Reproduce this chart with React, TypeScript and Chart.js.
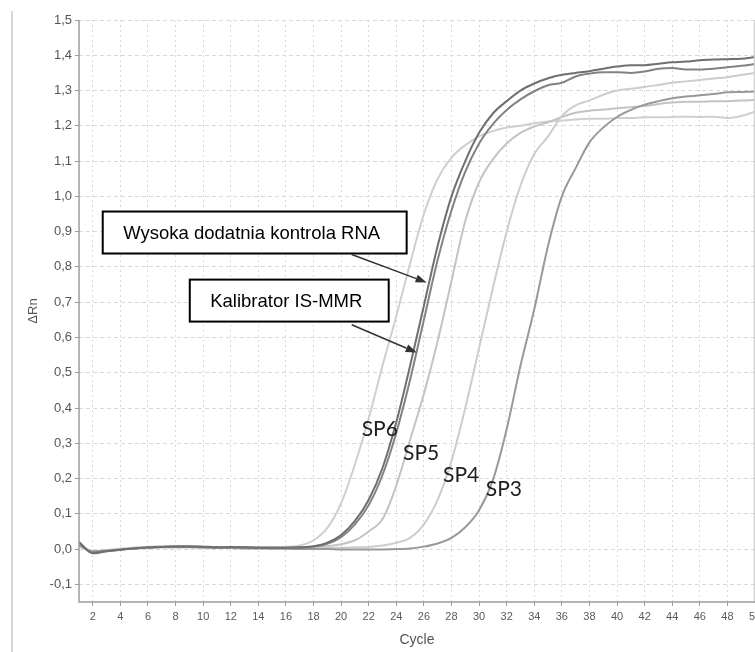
import React, { useEffect, useRef } from "react";
import { Chart, registerables } from "chart.js";

Chart.register(...registerables);

// ---------- DATA ----------
const cycles = [
  1, 2, 3, 4, 5, 6, 7, 8, 9, 10, 11, 12, 13, 14, 15, 16, 17, 18, 19, 20, 21, 22, 23, 24, 25,
  26, 27, 28, 29, 30, 31, 32, 33, 34, 35, 36, 37, 38, 39, 40, 41, 42, 43, 44, 45, 46, 47, 48, 49, 50,
];

const xTickValues = [2, 4, 6, 8, 10, 12, 14, 16, 18, 20, 22, 24, 26, 28, 30, 32, 34, 36, 38, 40, 42, 44, 46, 48, 50];
const yTickValues = [-0.1, 0, 0.1, 0.2, 0.3, 0.4, 0.5, 0.6, 0.7, 0.8, 0.9, 1.0, 1.1, 1.2, 1.3, 1.4, 1.5];

// Wysoka dodatnia kontrola RNA
const rnaControl = [
  0.02, -0.012, -0.006, -0.002, 0.002, 0.005, 0.006, 0.007, 0.007, 0.006,
  0.005, 0.006, 0.005, 0.004, 0.004, 0.004, 0.005, 0.008, 0.018, 0.04,
  0.08, 0.14, 0.23, 0.36, 0.52, 0.69, 0.86, 1.0, 1.1, 1.18,
  1.235, 1.27, 1.3, 1.32, 1.335, 1.345, 1.35, 1.355, 1.362, 1.368,
  1.372, 1.372, 1.376, 1.38, 1.382, 1.386, 1.388, 1.389, 1.39, 1.395,
];

// Kalibrator IS-MMR
const calibrator = [
  0.018, -0.01, -0.006, -0.002, 0.002, 0.004, 0.006, 0.007, 0.007, 0.006,
  0.005, 0.005, 0.005, 0.004, 0.004, 0.004, 0.004, 0.007, 0.015, 0.034,
  0.07, 0.125, 0.21, 0.33, 0.48, 0.65, 0.82, 0.96, 1.07, 1.15,
  1.205, 1.245, 1.275, 1.298, 1.315, 1.322, 1.34, 1.348, 1.352, 1.352,
  1.35, 1.354, 1.362, 1.364, 1.36, 1.36, 1.362, 1.366, 1.37, 1.375,
];

const sp6 = [
  0.015, -0.01, -0.005, 0.0, 0.004, 0.006, 0.007, 0.008, 0.008, 0.007,
  0.006, 0.006, 0.006, 0.005, 0.005, 0.006, 0.01, 0.025, 0.06, 0.13,
  0.24, 0.37, 0.52, 0.66, 0.81, 0.95, 1.05, 1.11, 1.145, 1.17,
  1.185, 1.195, 1.2, 1.207, 1.212, 1.215, 1.218, 1.22, 1.22, 1.222,
  1.222, 1.224, 1.224, 1.225, 1.226, 1.225, 1.226, 1.222, 1.228, 1.24,
];

const sp5 = [
  0.012, -0.006, -0.004, 0.0, 0.003, 0.006, 0.007, 0.008, 0.008, 0.007,
  0.006, 0.006, 0.005, 0.005, 0.004, 0.004, 0.004, 0.005, 0.008, 0.014,
  0.025, 0.05, 0.085, 0.18, 0.31, 0.44, 0.59, 0.76, 0.93, 1.04,
  1.105, 1.15, 1.18, 1.198, 1.21, 1.225, 1.237, 1.243, 1.246, 1.25,
  1.253, 1.256, 1.262, 1.266, 1.268, 1.268, 1.27, 1.27, 1.272, 1.273,
];

const sp4 = [
  0.01, -0.008, -0.003, 0.001, 0.004, 0.006, 0.007, 0.007, 0.008, 0.007,
  0.006, 0.006, 0.005, 0.005, 0.004, 0.004, 0.004, 0.004, 0.004, 0.004,
  0.005, 0.006, 0.01, 0.018, 0.032, 0.07, 0.14, 0.25, 0.4, 0.57,
  0.74, 0.9, 1.03, 1.12, 1.17, 1.228, 1.258, 1.272, 1.288, 1.3,
  1.305, 1.31, 1.316, 1.322, 1.326, 1.33, 1.334, 1.338, 1.344, 1.35,
];

const sp3 = [
  0.01, -0.006, -0.004, -0.001, 0.002, 0.004, 0.005, 0.005, 0.005, 0.004,
  0.003, 0.003, 0.002, 0.002, 0.001, 0.001, 0.0, 0.0, 0.0, -0.001,
  -0.001, -0.001, -0.001, 0.0, 0.002, 0.007, 0.016, 0.032, 0.062, 0.11,
  0.196, 0.34, 0.52, 0.68, 0.86, 1.0, 1.08, 1.153, 1.195, 1.225,
  1.245, 1.26, 1.27, 1.278, 1.283, 1.287, 1.29, 1.295, 1.296, 1.297,
];

// ---------- ANNOTATIONS (data coordinates) ----------
const calloutTexts = ["Wysoka dodatnia kontrola RNA", "Kalibrator IS-MMR"];
const calloutBoxes = [
  { x0: 2.72, x1: 24.75, y0: 0.957, y1: 0.838 },
  { x0: 9.03, x1: 23.45, y0: 0.764, y1: 0.645 },
];
const calloutArrows = [
  { fx: 20.77, fy: 0.835, tx: 26.2, ty: 0.756 },
  { fx: 20.77, fy: 0.636, tx: 25.48, ty: 0.557 },
];
const spLabels = ["SP6", "SP5", "SP4", "SP3"];
const spLabelPos = [
  { x: 22.8, y: 0.34 },
  { x: 25.8, y: 0.273 },
  { x: 28.7, y: 0.21 },
  { x: 31.8, y: 0.17 },
];

const FONT = "'Liberation Sans', Arial, sans-serif";

const toXY = (vals: number[]) => vals.map((v, i) => ({ x: cycles[i], y: v }));

const overlayPlugin = {
  id: "overlay",
  afterDraw(chart: any) {
    const { ctx, chartArea: a, scales } = chart;
    const xs = scales.x;
    const ys = scales.y;
    ctx.save();
    ctx.setLineDash([]);
    // outer frame line on the left
    ctx.strokeStyle = "#d6d6d6";
    ctx.lineWidth = 2;
    ctx.beginPath();
    ctx.moveTo(12, 11);
    ctx.lineTo(12, chart.height);
    ctx.stroke();

    // right border
    ctx.strokeStyle = "#d0d0d0";
    ctx.lineWidth = 1.5;
    ctx.beginPath();
    ctx.moveTo(a.right - 0.5, a.top);
    ctx.lineTo(a.right - 0.5, a.bottom);
    ctx.stroke();

    // axis lines
    ctx.strokeStyle = "#9c9c9c";
    ctx.lineWidth = 1.5;
    ctx.beginPath();
    ctx.moveTo(a.left, a.top);
    ctx.lineTo(a.left, a.bottom);
    ctx.lineTo(a.right, a.bottom);
    ctx.stroke();

    // callout boxes
    ctx.font = `18.5px ${FONT}`;
    ctx.textAlign = "center";
    ctx.textBaseline = "middle";
    calloutBoxes.forEach((b, i) => {
      const l = xs.getPixelForValue(b.x0);
      const r = xs.getPixelForValue(b.x1);
      const t = ys.getPixelForValue(b.y0);
      const bt = ys.getPixelForValue(b.y1);
      ctx.fillStyle = "#ffffff";
      ctx.fillRect(l, t, r - l, bt - t);
      ctx.strokeStyle = "#000000";
      ctx.lineWidth = 2;
      ctx.strokeRect(l, t, r - l, bt - t);
      ctx.fillStyle = "#000000";
      ctx.fillText(calloutTexts[i], (l + r) / 2 - 3, (t + bt) / 2 + 1);
    });

    // arrows
    calloutArrows.forEach((ar) => {
      const fx = xs.getPixelForValue(ar.fx);
      const fy = ys.getPixelForValue(ar.fy);
      const tx = xs.getPixelForValue(ar.tx);
      const ty = ys.getPixelForValue(ar.ty);
      const ang = Math.atan2(ty - fy, tx - fx);
      const len = 11;
      const hw = 4;
      ctx.strokeStyle = "#333333";
      ctx.fillStyle = "#333333";
      ctx.lineWidth = 1.5;
      ctx.beginPath();
      ctx.moveTo(fx, fy);
      ctx.lineTo(tx - Math.cos(ang) * len, ty - Math.sin(ang) * len);
      ctx.stroke();
      ctx.beginPath();
      ctx.moveTo(tx, ty);
      ctx.lineTo(
        tx - Math.cos(ang) * len + Math.sin(ang) * hw,
        ty - Math.sin(ang) * len - Math.cos(ang) * hw
      );
      ctx.lineTo(
        tx - Math.cos(ang) * len - Math.sin(ang) * hw,
        ty - Math.sin(ang) * len + Math.cos(ang) * hw
      );
      ctx.closePath();
      ctx.fill();
    });

    // SP labels
    ctx.font = `21px Lato, 'Noto Sans', sans-serif`;
    ctx.fillStyle = "#1e1e1e";
    spLabels.forEach((s, i) => {
      const p = spLabelPos[i];
      ctx.fillText(s, xs.getPixelForValue(p.x), ys.getPixelForValue(p.y));
    });
    ctx.restore();
  },
};

export default function App() {
  const ref = useRef<HTMLCanvasElement | null>(null);

  useEffect(() => {
    document.body.style.overflow = "hidden";
    document.documentElement.style.overflow = "hidden";
    const canvas = ref.current;
    if (!canvas) return;

    const line = (label: string, vals: number[], color: string, width: number) => ({
      label,
      data: toXY(vals),
      borderColor: color,
      backgroundColor: color,
      borderWidth: width,
      pointRadius: 0,
      fill: false,
      cubicInterpolationMode: "monotone" as const,
    });

    const chart = new Chart(canvas, {
      type: "line",
      data: {
        datasets: [
          line("Wysoka dodatnia kontrola RNA", rnaControl, "#6f6f6f", 2),
          line("Kalibrator IS-MMR", calibrator, "#828282", 2),
          line("SP3", sp3, "#999999", 2),
          line("SP4", sp4, "#cdcdcd", 2),
          line("SP5", sp5, "#c3c3c3", 2),
          line("SP6", sp6, "#cfcfcf", 2),
        ],
      },
      options: {
        animation: false,
        responsive: false,
        devicePixelRatio: 1,
        layout: { padding: { left: 0, right: 25, top: 20, bottom: 0 } },
        plugins: {
          legend: { display: false },
          tooltip: { enabled: false },
        },
        scales: {
          x: {
            type: "linear",
            min: 1,
            max: 50,
            afterBuildTicks: (s: any) => {
              s.ticks = xTickValues.map((v) => ({ value: v }));
            },
            afterFit: (s: any) => {
              s.height = 50;
            },
            ticks: {
              font: { size: 11, family: FONT },
              color: "#5a5a5a",
              padding: 4,
              maxRotation: 0,
              autoSkip: false,
            },
            grid: {
              color: "#d9d9d9",
              lineWidth: 1,
              tickLength: 4,
              tickColor: "#9c9c9c",
              tickWidth: 1,
            },
            border: { display: false, dash: [2, 3] },
            title: {
              display: true,
              text: "Cycle",
              font: { size: 14, family: FONT },
              color: "#555555",
              padding: { top: 0, bottom: 3 },
            },
          },
          y: {
            type: "linear",
            min: -0.15,
            max: 1.5,
            afterBuildTicks: (s: any) => {
              s.ticks = yTickValues.map((v) => ({ value: v }));
            },
            afterFit: (s: any) => {
              s.width = 79;
            },
            ticks: {
              font: { size: 13, family: FONT },
              color: "#555555",
              padding: 3,
              callback: (v: any) => Number(v).toFixed(1).replace(".", ","),
            },
            grid: {
              color: "#d9d9d9",
              lineWidth: 1,
              tickLength: 4,
              tickColor: "#9c9c9c",
              tickWidth: 1,
            },
            border: { display: false, dash: [4, 3] },
            title: {
              display: true,
              text: "ΔRn",
              font: { size: 13, family: FONT },
              color: "#555555",
              padding: { top: 26, bottom: 0 },
            },
          },
        },
      },
      plugins: [overlayPlugin],
    });

    return () => chart.destroy();
  }, []);

  return (
    <div style={{ position: "absolute", left: 0, top: 0, width: 780, height: 652, background: "#fff" }}>
      <canvas ref={ref} width={780} height={652} style={{ display: "block" }} />
    </div>
  );
}
